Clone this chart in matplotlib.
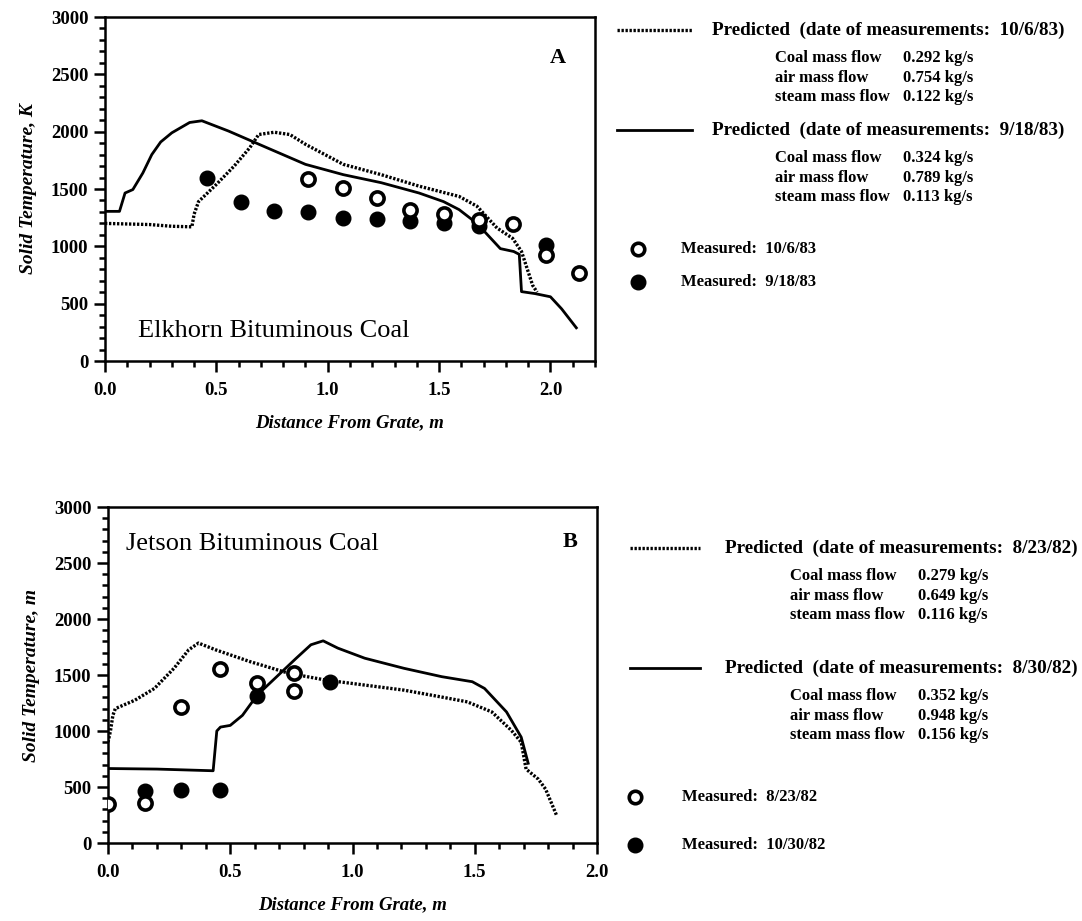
import matplotlib
matplotlib.use("Agg")
import matplotlib.pyplot as plt
from matplotlib.ticker import MultipleLocator, FixedLocator, FixedFormatter
from matplotlib.lines import Line2D

plt.rcParams['font.family'] = ['Liberation Serif', 'DejaVu Serif']

# ---- Panel A: Elkhorn bituminous coal ----
a_pred1_x = [0.0, 0.10, 0.20, 0.30, 0.39, 0.40, 0.42, 0.50, 0.58, 0.65, 0.69, 0.76,
             0.83, 0.90, 1.07, 1.24, 1.41, 1.59, 1.67, 1.76, 1.83, 1.87, 1.92, 1.94]
a_pred1_t = [1200, 1195, 1190, 1175, 1170, 1280, 1390, 1540, 1700, 1860, 1975, 1995,
             1975, 1890, 1715, 1625, 1525, 1435, 1350, 1160, 1070, 955, 660, 600]

a_pred2_x = [0.0, 0.065, 0.09, 0.125, 0.17, 0.21, 0.25, 0.30, 0.38, 0.435, 0.555, 0.727,
             0.90, 1.07, 1.24, 1.41, 1.52, 1.59, 1.67, 1.775, 1.835, 1.86, 1.87, 1.93,
             2.00, 2.05, 2.12]
a_pred2_t = [1305, 1305, 1465, 1495, 1640, 1800, 1910, 1990, 2080, 2095, 2005, 1860,
             1715, 1625, 1555, 1465, 1390, 1320, 1200, 980, 955, 930, 605, 588,
             560, 455, 280]

a_meas1_x = [0.91, 1.07, 1.22, 1.37, 1.52, 1.68, 1.83, 1.98, 2.13]
a_meas1_t = [1590, 1510, 1420, 1320, 1280, 1230, 1195, 925, 770]

a_meas2_x = [0.46, 0.61, 0.76, 0.91, 1.07, 1.22, 1.37, 1.52, 1.68, 1.98]
a_meas2_t = [1600, 1385, 1305, 1300, 1250, 1235, 1225, 1200, 1180, 1010]

# ---- Panel B: Jetson bituminous coal ----
b_pred1_x = [0.0, 0.01, 0.02, 0.03, 0.11, 0.19, 0.27, 0.33, 0.37, 0.44, 0.58, 0.74,
             0.89, 1.05, 1.21, 1.36, 1.47, 1.57, 1.65, 1.69, 1.71, 1.76, 1.79, 1.835]
b_pred1_t = [900, 1000, 1140, 1200, 1275, 1380, 1560, 1725, 1785, 1725, 1620, 1515,
             1455, 1410, 1365, 1305, 1260, 1170, 1005, 900, 660, 570, 480, 245]

b_pred2_x = [0.0, 0.20, 0.43, 0.445, 0.46, 0.50, 0.55, 0.61, 0.69, 0.77, 0.83, 0.88,
             0.94, 1.05, 1.21, 1.365, 1.49, 1.54, 1.63, 1.69, 1.72]
b_pred2_t = [665, 660, 645, 1000, 1035, 1050, 1140, 1320, 1485, 1650, 1770, 1805,
             1740, 1650, 1560, 1485, 1440, 1380, 1170, 945, 700]

b_meas1_x = [0.0, 0.15, 0.30, 0.46, 0.61, 0.76, 0.76]
b_meas1_t = [350, 360, 1210, 1550, 1430, 1520, 1360]

b_meas2_x = [0.15, 0.30, 0.46, 0.61, 0.91]
b_meas2_t = [460, 470, 470, 1310, 1440]

x_tick_vals = [0.0, 0.5, 1.0, 1.5, 2.0]
x_tick_text = ['0.0', '0.5', '1.0', '1.5', '2.0']
y_tick_vals = [0, 500, 1000, 1500, 2000, 2500, 3000]

legend_a = [
    ("Predicted  (date of measurements:  10/6/83)",
     [("Coal mass flow", "0.292 kg/s"), ("air mass flow", "0.754 kg/s"),
      ("steam mass flow", "0.122 kg/s")]),
    ("Predicted  (date of measurements:  9/18/83)",
     [("Coal mass flow", "0.324 kg/s"), ("air mass flow", "0.789 kg/s"),
      ("steam mass flow", "0.113 kg/s")]),
]
measured_a = ["Measured:  10/6/83", "Measured:  9/18/83"]

legend_b = [
    ("Predicted  (date of measurements:  8/23/82)",
     [("Coal mass flow", "0.279 kg/s"), ("air mass flow", "0.649 kg/s"),
      ("steam mass flow", "0.116 kg/s")]),
    ("Predicted  (date of measurements:  8/30/82)",
     [("Coal mass flow", "0.352 kg/s"), ("air mass flow", "0.948 kg/s"),
      ("steam mass flow", "0.156 kg/s")]),
]
measured_b = ["Measured:  8/23/82", "Measured:  10/30/82"]

W, H = 1082, 921
fig = plt.figure(figsize=(W / 100, H / 100), dpi=100)


def px(x, y):
    return x / W, 1 - y / H


DOT = (0, (0.7, 0.5))
LINE_KW = dict(color='black', solid_capstyle='butt')


def style_axes(ax, xmax, ylabel):
    ax.set_xlim(0, xmax)
    ax.set_ylim(0, 3000)
    for s in ax.spines.values():
        s.set_linewidth(1.8)
    ax.xaxis.set_major_locator(FixedLocator(x_tick_vals))
    ax.xaxis.set_major_formatter(FixedFormatter(x_tick_text))
    ax.xaxis.set_minor_locator(MultipleLocator(0.1))
    ax.yaxis.set_major_locator(FixedLocator(y_tick_vals))
    ax.yaxis.set_minor_locator(MultipleLocator(100))
    ax.tick_params(which='major', direction='out', length=8, width=1.8,
                   labelsize=13.5, pad=4)
    ax.tick_params(which='minor', direction='out', length=4, width=1.8)
    ax.tick_params(axis='x', which='major', pad=7)
    for lab in ax.get_xticklabels() + ax.get_yticklabels():
        lab.set_fontweight('bold')
    ax.set_ylabel(ylabel, fontsize=14, fontstyle='italic', fontweight='bold',
                  labelpad=10)
    ax.set_xlabel("Distance From Grate, m", fontsize=13.5, fontstyle='italic',
                  fontweight='bold', labelpad=11)


def draw_panel(ax, p1x, p1t, p2x, p2t, m1x, m1t, m2x, m2t):
    ax.plot(p1x, p1t, linestyle=DOT, lw=2.4, **LINE_KW)
    ax.plot(p2x, p2t, linestyle='-', lw=2.0, **LINE_KW)
    ax.plot(m2x, m2t, linestyle='none', marker='o', markersize=10.5,
            markerfacecolor='black', markeredgecolor='black', zorder=4)
    ax.plot(m1x, m1t, linestyle='none', marker='o', markersize=9.5,
            markerfacecolor='white', markeredgecolor='black',
            markeredgewidth=2.6, zorder=5)


# ---- Top panel ----
axA = fig.add_axes([105 / W, 1 - 361 / H, 490 / W, 344 / H])
draw_panel(axA, a_pred1_x, a_pred1_t, a_pred2_x, a_pred2_t,
           a_meas1_x, a_meas1_t, a_meas2_x, a_meas2_t)
style_axes(axA, 2.2, "Solid Temperature, K")
axA.text(0.925, 0.88, "A", transform=axA.transAxes, fontsize=16,
         fontweight='bold', ha='center', va='center')
axA.text(0.068, 0.088, "Elkhorn Bituminous Coal", transform=axA.transAxes,
         fontsize=19, ha='left', va='center')

# ---- Bottom panel ----
axB = fig.add_axes([108 / W, 1 - 843 / H, 489 / W, 336 / H])
draw_panel(axB, b_pred1_x, b_pred1_t, b_pred2_x, b_pred2_t,
           b_meas1_x, b_meas1_t, b_meas2_x, b_meas2_t)
style_axes(axB, 2.0, "Solid Temperature, m")
axB.text(0.945, 0.895, "B", transform=axB.transAxes, fontsize=16,
         fontweight='bold', ha='center', va='center')
axB.text(0.036, 0.89, "Jetson Bituminous Coal", transform=axB.transAxes,
         fontsize=19, ha='left', va='center')


# ---- Legend blocks drawn as figure text ----
def legend_block(entries, measured, line_x, text_x, sub_x, val_x,
                 head_ys, sub_dy, meas_ys, marker_x, meas_x):
    styles = [DOT, '-']
    widths = [2.4, 2.0]
    for (head, rows), y, ls, lw in zip(entries, head_ys, styles, widths):
        fig.add_artist(Line2D([line_x[0] / W, line_x[1] / W], [1 - y / H, 1 - y / H],
                              linestyle=ls, lw=lw, color='black',
                              transform=fig.transFigure))
        fig.text(*px(text_x, y), head, fontsize=13.8, fontweight='bold',
                 ha='left', va='center')
        for i, (name, val) in enumerate(rows):
            yy = y + sub_dy[0] + i * sub_dy[1]
            fig.text(*px(sub_x, yy), name, fontsize=12, fontweight='bold',
                     ha='left', va='center')
            fig.text(*px(val_x, yy), val, fontsize=12, fontweight='bold',
                     ha='left', va='center')
    for k, (lab, y) in enumerate(zip(measured, meas_ys)):
        fc = 'white' if k == 0 else 'black'
        mew = 2.6 if k == 0 else 1.0
        ms = 9.0 if k == 0 else 10.5
        fig.add_artist(Line2D([marker_x / W], [1 - y / H], marker='o',
                              markersize=ms, markerfacecolor=fc,
                              markeredgecolor='black', markeredgewidth=mew,
                              linestyle='none', transform=fig.transFigure))
        fig.text(*px(meas_x, y), lab, fontsize=12, fontweight='bold',
                 ha='left', va='center')


legend_block(legend_a, measured_a, line_x=(617, 692), text_x=712, sub_x=775,
             val_x=903, head_ys=[30, 130], sub_dy=(28, 19.5),
             meas_ys=[249, 282], marker_x=638, meas_x=681)
legend_block(legend_b, measured_b, line_x=(630, 700), text_x=725, sub_x=790,
             val_x=918, head_ys=[548, 668], sub_dy=(28, 19.5),
             meas_ys=[797, 845], marker_x=635, meas_x=682)

fig.savefig("out.png", dpi=100, facecolor='white')
